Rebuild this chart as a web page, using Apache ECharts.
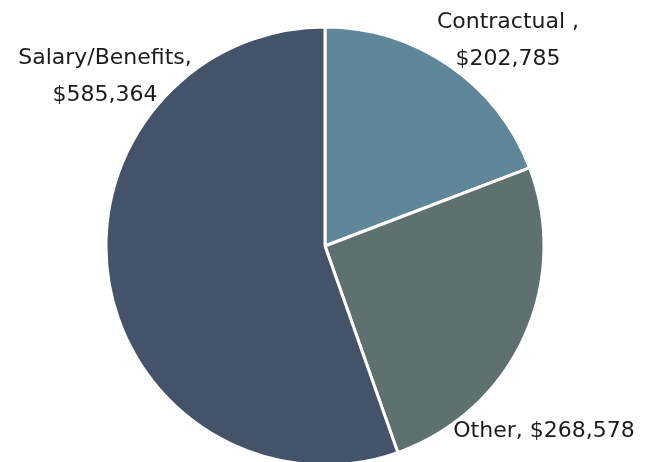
<!DOCTYPE html>
<html>
<head>
<meta charset="utf-8">
<script src="https://cdn.jsdelivr.net/npm/echarts@6/dist/echarts.min.js"></script>
<style>
  html, body { margin: 0; padding: 0; background: #fff; }
  #chart { width: 645px; height: 462px; }
</style>
</head>
<body>
<div id="chart"></div>
<script>
// Expense breakdown
const categories = ['Contractual ', 'Other', 'Salary/Benefits']
const amounts = [202785, 268578, 585364]
const colors = ['#5f8799', '#5f716f', '#445369']
const multiLine = [true, false, true]

// where each label sits (text placement only)
const labelSpots = [
  { x: 508, y: 41 },
  { x: 544, y: 431 },
  { x: 105, y: 77 }
]

const fmt = v => '$' + v.toLocaleString('en-US')

const chart = echarts.init(document.getElementById('chart'))

chart.setOption({
  animation: false,
  series: [{
    type: 'pie',
    center: [325, 246],
    radius: 219,
    startAngle: 90,
    clockwise: true,
    data: categories.map((name, i) => ({
      name,
      value: amounts[i],
      itemStyle: { color: colors[i] }
    })),
    itemStyle: { borderColor: '#fff', borderWidth: 3 },
    label: {
      show: true,
      position: 'outside',
      color: '#1c1c1c',
      fontFamily: 'DejaVu Sans',
      fontSize: 22,
      lineHeight: 37,
      align: 'center',
      overflow: 'none',
      width: 300,
      formatter: p => p.name + ',' + (multiLine[p.dataIndex] ? '\n' : ' ') + fmt(p.value)
    },
    labelLine: { show: false },
    labelLayout: p => ({
      x: labelSpots[p.dataIndex].x,
      y: labelSpots[p.dataIndex].y,
      align: 'center',
      verticalAlign: 'middle'
    })
  }]
})
</script>
</body>
</html>
